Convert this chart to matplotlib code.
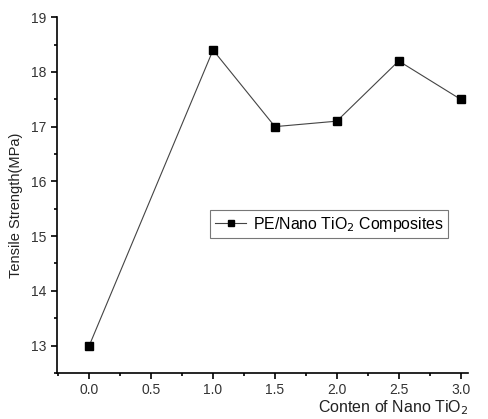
import matplotlib.pyplot as plt
from matplotlib.ticker import MultipleLocator

plt.rcParams["font.family"] = ["Liberation Sans", "DejaVu Sans"]

content = [0.0, 1.0, 1.5, 2.0, 2.5, 3.0]
strength = [13.0, 18.4, 17.0, 17.1, 18.2, 17.5]
xticks = [0.0, 0.5, 1.0, 1.5, 2.0, 2.5, 3.0]

fig = plt.figure(figsize=(4.88, 4.19), dpi=100)
ax = fig.add_axes([0.117, 0.110, 0.842, 0.849])

ax.plot(content, strength, color="#444444", linewidth=0.8,
        marker="s", markersize=5.5, markerfacecolor="black",
        markeredgecolor="black", label="PE/Nano TiO$_2$ Composites")

ax.set_xlim(-0.26, 3.06)
ax.set_ylim(12.5, 19)
ax.set_xticks(xticks)
ax.xaxis.set_minor_locator(MultipleLocator(0.25))
ax.yaxis.set_major_locator(MultipleLocator(1))
ax.yaxis.set_minor_locator(MultipleLocator(0.5))

ax.spines["top"].set_visible(False)
ax.spines["right"].set_visible(False)
ax.spines["left"].set_linewidth(1.2)
ax.spines["bottom"].set_linewidth(1.2)
ax.tick_params(which="major", length=4, width=1.2, labelsize=10,
               labelcolor="#333333", direction="out")
ax.tick_params(which="minor", length=2.5, width=1.2, direction="out")

ax.set_ylabel("Tensile Strength(MPa)", fontsize=10.5, color="#222222")
ax.yaxis.set_label_coords(-0.083, 0.472)
ax.set_xlabel("Conten of Nano TiO$_2$", fontsize=11.5, color="#222222",
              loc="right", labelpad=1)

leg = ax.legend(loc="center", bbox_to_anchor=(0.662, 0.418), fontsize=11.4,
                fancybox=False, edgecolor="#555555", handlelength=2.0,
                handletextpad=0.4, borderpad=0.3, markerscale=0.7)
leg.get_frame().set_linewidth(0.8)

fig.savefig("out.png", dpi=100)
